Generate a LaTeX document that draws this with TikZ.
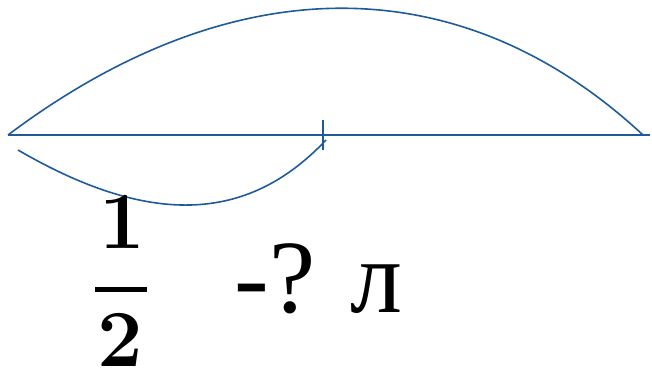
\documentclass[tikz,border=0pt]{standalone}
\usepackage{fontspec}
\newfontfamily\qfont{Liberation Serif}
\definecolor{arccol}{HTML}{1F5B9B}
\definecolor{textcol}{HTML}{000000}

\begin{document}
\begin{tikzpicture}[x=1pt,y=-1pt,line width=1.6pt]
\useasboundingbox (0,0) rectangle (652,377);
\coordinate (start) at (8,135);
\coordinate (end) at (650,135);
\coordinate (halfup) at (323,120);
\coordinate (halfdown) at (323,150);
\coordinate (whole) at (643,135);
\coordinate (lowstart) at (18,150);
\coordinate (lowend) at (326,140);
\coordinate (barleft) at (95,289);
\coordinate (barright) at (147,289);
\draw[arccol] (start) -- (end);
\draw[arccol] (halfup) -- (halfdown);
\draw[arccol] (start) .. controls (233,-34) and (461,-34) .. (whole);
\draw[arccol] (lowstart) .. controls (147,225) and (246,225) .. (lowend);
\node[text=textcol,font=\bfseries\fontsize{81}{90}\selectfont,anchor=base,inner sep=0pt] (one) at (122,248) {1};
\node[text=textcol,font=\bfseries\fontsize{81}{90}\selectfont,anchor=base,inner sep=0pt] (two) at (120,366) {2};
\draw[textcol,line width=5pt] (barleft) -- (barright);
\node[text=textcol,font=\qfont\fontsize{104}{110}\selectfont,anchor=base west,inner sep=0pt] (ask) at (234,312) {-? л};
\end{tikzpicture}
\end{document}
